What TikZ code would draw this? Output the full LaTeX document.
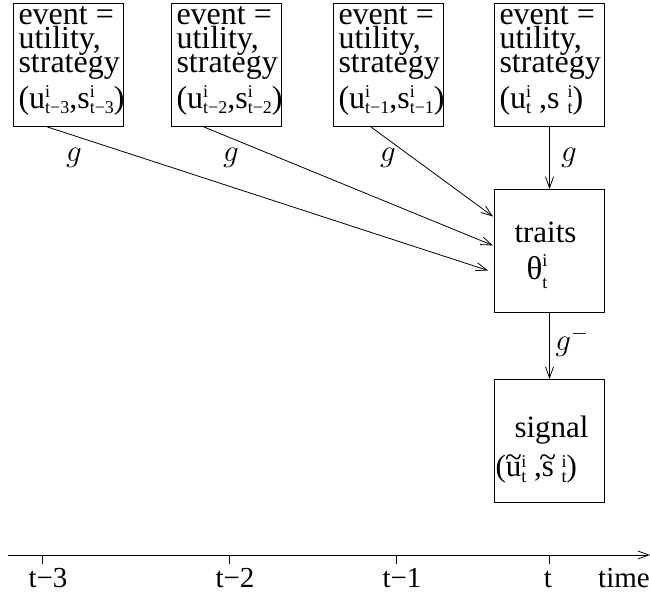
\documentclass[tikz,border=0pt]{standalone}
\usepackage{fix-cm}
\usepackage{fontspec}
\setmainfont{Liberation Serif}
\usetikzlibrary{arrows.meta}
\newcommand\stk[4]{{\fontsize{18}{18}\selectfont\rlap{\raisebox{#1}{#3}}\raisebox{-#2}{#4}}}
\newcommand\tld[1]{\ooalign{#1\cr\hidewidth\raisebox{9pt}{\textasciitilde}\hidewidth\cr}}
\newcommand\evtext[1]{\parbox[c][123pt][t]{110pt}{\fontsize{32}{24}\selectfont\raggedright\leftskip=5pt\lineskiplimit=-100pt\rule{0pt}{21pt}event =\\utility,\\strategy\\[12pt]#1}}
\tikzset{
  box/.style={draw, line width=1pt, inner sep=0pt, anchor=north west, minimum width=110pt, minimum height=123pt},
  arr/.style={-{Straight Barb[length=11pt,width=8pt]}, line width=0.8pt},
  glab/.style={font=\fontsize{31}{31}\selectfont, inner sep=0pt},
  axlab/.style={font=\fontsize{29}{29}\selectfont, inner sep=0pt, anchor=base}
}
\begin{document}
\begin{tikzpicture}[x=1pt,y=-1pt]
\useasboundingbox (0,0) rectangle (650,595);
\node[box] (e1) at (13,3) {\evtext{(u\stk{11pt}{5pt}{i}{t−3},s\stk{11pt}{5pt}{i}{t−3})}};
\node[box] (e2) at (171,3) {\evtext{(u\stk{11pt}{5pt}{i}{t−2},s\stk{11pt}{5pt}{i}{t−2})}};
\node[box] (e3) at (333,3) {\evtext{(u\stk{11pt}{5pt}{i}{t−1},s\stk{11pt}{5pt}{i}{t−1})}};
\node[box] (e4) at (494,3) {\evtext{(u\stk{11pt}{5pt}{i}{t} ,s \stk{11pt}{5pt}{i}{t})}};
\node[box] (tr) at (494,189) {\parbox[c][123pt][t]{110pt}{\fontsize{31}{24}\selectfont\raggedright\leftskip=20pt\lineskiplimit=-100pt\rule{0pt}{53pt}traits\\[13pt]\hspace*{12pt}{\fontsize{33}{24}\selectfont θ}\stk{13pt}{9pt}{i}{t}}};
\node[box] (sg) at (494,379) {\parbox[c][123pt][t]{110pt}{\fontsize{31}{24}\selectfont\raggedright\leftskip=20pt\lineskiplimit=-100pt\rule{0pt}{58pt}signal\\[15pt]\hspace*{-19pt}(\tld{u}\stk{9pt}{6pt}{i}{t} ,\tld{s} \stk{9pt}{6pt}{i}{t})}};
% connectors
\draw[arr] ([xshift=-21pt]e1.south) -- ([xshift=-6pt,yshift=-19.5pt]tr.west);
\draw[arr] ([xshift=-22.5pt]e2.south) -- ([xshift=-1pt,yshift=5.5pt]tr.west);
\draw[arr] ([xshift=-17.5pt]e3.south) -- ([xshift=-1pt,yshift=34.5pt]tr.west);
\draw[arr] (e4.south) -- (tr.north);
\draw[arr] (tr.south) -- (sg.north);
% labels
\node[glab] (g1) at (74,158) {$g$};
\node[glab] (g2) at (231,158) {$g$};
\node[glab] (g3) at (388,158) {$g$};
\node[glab] (g4) at (569,158) {$g$};
\node[glab] (g5) at (572,342) {$g^{-}$};
% time axis
\coordinate (a0) at (8,555);
\coordinate (a1) at (650,555);
\draw[arr] (a0) -- (a1);
\coordinate (k1) at (42,555);
\coordinate (k2) at (229,555);
\coordinate (k3) at (396,555);
\coordinate (k4) at (549,555);
\foreach \k in {k1,k2,k3,k4} \draw[line width=0.8pt] (\k) -- ++(0,9);
\node[axlab] (l1) at (48,587) {t−3};
\node[axlab] (l2) at (235,587) {t−2};
\node[axlab] (l3) at (402,587) {t−1};
\node[axlab] (l4) at (548,587) {t};
\node[axlab] (l5) at (624,587) {time};
\end{tikzpicture}
\end{document}
